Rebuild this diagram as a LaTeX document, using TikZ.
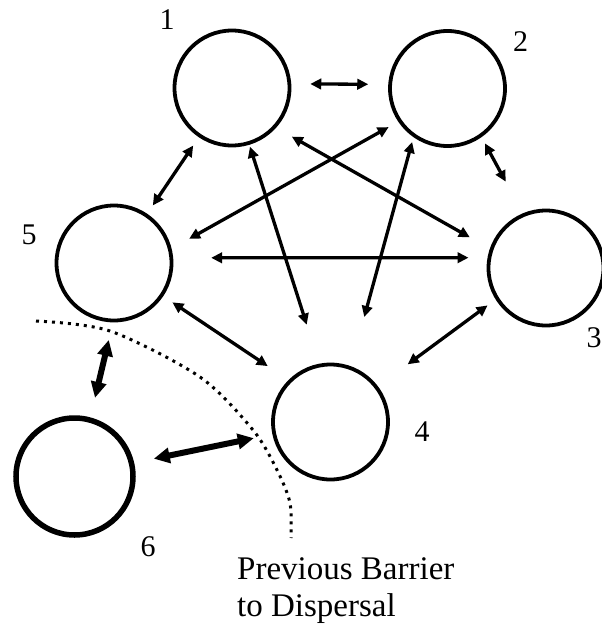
\documentclass[tikz,border=0pt]{standalone}
\usepackage{fontspec}
\setmainfont{Liberation Serif}
\usepackage{tikz}
\usetikzlibrary{arrows.meta}
\tikzset{patch/.style={draw, circle, line width = 3.8pt, minimum size = 115pt, inner sep = 0pt},
  link/.style={line width = 3.3pt, arrows = {Triangle[length=11pt, width=10.5pt]-Triangle[length=11pt, width=10.5pt]}},
  bold link/.style={line width = 6pt, arrows = {Triangle[length=16pt, width=15pt]-Triangle[length=16pt, width=15pt]}},
  gaps/.style 2 args={shorten <= #1, shorten >= #2},
  tag/.style={font=\fontsize{30}{30}\selectfont, inner sep = 0pt, anchor = base}}

\begin{document}
\begin{tikzpicture}[x=1pt, y=-1pt]
	\useasboundingbox (0,0) rectangle (602,629);

	\node[patch] (c1) at (232, 88) {};
	\node[patch] (c2) at (447.5, 88.5) {};
	\node[patch] (c3) at (546, 268) {};
	\node[patch] (c4) at (330.5, 422) {};
	\node[patch] (c5) at (114, 263) {};
	\node[patch, line width = 5.5pt, minimum size = 117pt] (c6) at (74.5, 476.5) {};

	\draw[link, gaps = {19pt}{20pt}] (c1.4) -- (c2.176);
	\draw[link, gaps = {10pt}{10pt}] (c1.236) -- (c5.56);
	\draw[link, gaps = {2pt}{41pt}] (c1.-73) -- (c4.101);
	\draw[link, gaps = {18pt}{23pt}] (c1.-42) -- (c3.161);
	\draw[link, gaps = {20pt}{11pt}] (c5.14) -- (c2.-146);
	\draw[link, gaps = {5pt}{51pt}] (c2.-125) -- (c4.70);
	\draw[link, gaps = {7pt}{36pt}] (c2.-55) -- (c3.113);
	\draw[link, gaps = {38pt}{19pt}] (c5.5) -- (c3.170);
	\draw[link, gaps = {11pt}{25pt}] (c5.-34) -- (c4.135);
	\draw[link, gaps = {10pt}{37pt}] (c3.-148) -- (c4.37);
	\draw[bold link, gaps = {18pt}{20pt}] (c5.-91) -- (c6.75);
	\draw[bold link, gaps = {20pt}{19pt}] (c6.13) -- (c4.-168);

	\draw[line width = 3pt, dash pattern = on 3pt off 5pt] plot[smooth] coordinates {(36,321) (110,331) (200,377) (253,430) (277,470) (290,503) (291,538)};

	\node[tag] (n1) at (167, 29.3) {1};
	\node[tag] (n2) at (520.5, 51.7) {2};
	\node[tag] (n3) at (594, 347) {3};
	\node[tag] (n4) at (422, 441.7) {4};
	\node[tag] (n5) at (29, 244) {5};
	\node[tag] (n6) at (148, 556.7) {6};

	\node[anchor = north west, inner sep = 0pt, align = left, font = \fontsize{33}{37}\selectfont] (note) at (237, 557.5) {Previous Barrier\\to Dispersal};
\end{tikzpicture}
\end{document}
